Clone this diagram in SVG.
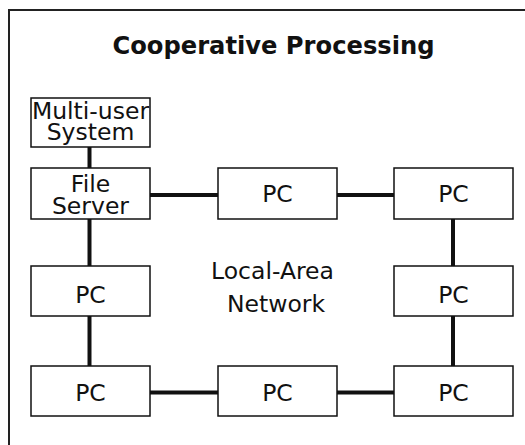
<svg xmlns="http://www.w3.org/2000/svg" width="525" height="445" viewBox="0 0 525 445">
<style>
.box{fill:#fff;stroke:#111;stroke-width:1.5}
.lbl{font-family:"DejaVu Sans","Liberation Sans",Arial,sans-serif;font-size:23.5px;fill:#111;text-anchor:middle}
.title{font-family:"DejaVu Sans","Liberation Sans",Arial,sans-serif;font-size:24.2px;font-weight:bold;fill:#111;text-anchor:middle}
.conn{stroke:#111;stroke-width:4;fill:none}
</style>
<rect width="525" height="445" fill="#fff"/>
<path d="M9,445 V10 H525" fill="none" stroke="#222" stroke-width="2"/>
<text class="title" x="273.5" y="54">Cooperative Processing</text>
<g id="connectors">
<line class="conn" x1="89.5" y1="147" x2="89.5" y2="168"/>
<line class="conn" x1="150" y1="195" x2="218" y2="195"/>
<line class="conn" x1="337" y1="195" x2="394" y2="195"/>
<line class="conn" x1="89.5" y1="219" x2="89.5" y2="266"/>
<line class="conn" x1="89.5" y1="316" x2="89.5" y2="366"/>
<line class="conn" x1="150" y1="392.5" x2="218" y2="392.5"/>
<line class="conn" x1="337" y1="392.5" x2="394" y2="392.5"/>
<line class="conn" x1="453" y1="219" x2="453" y2="266"/>
<line class="conn" x1="453" y1="316" x2="453" y2="366"/>
</g>
<g id="multiuser">
<rect class="box" x="31" y="98" width="119" height="49"/>
<text class="lbl" x="90.5" y="119" font-size="23">Multi-user</text>
<text class="lbl" x="90.5" y="140" font-size="23">System</text>
</g>
<g id="fileserver">
<rect class="box" x="31" y="168" width="119" height="51"/>
<text class="lbl" x="90.5" y="192" font-size="24">File</text>
<text class="lbl" x="90.5" y="214" font-size="24">Server</text>
</g>
<g id="pc1">
<rect class="box" x="218" y="168" width="119" height="51"/>
<text class="lbl" x="277.5" y="202">PC</text>
</g>
<g id="pc2">
<rect class="box" x="394" y="168" width="119" height="51"/>
<text class="lbl" x="453.5" y="202">PC</text>
</g>
<g id="pc3">
<rect class="box" x="31" y="266" width="119" height="50"/>
<text class="lbl" x="90.5" y="303">PC</text>
</g>
<g id="pc4">
<rect class="box" x="394" y="266" width="119" height="50"/>
<text class="lbl" x="453.5" y="303">PC</text>
</g>
<g id="pc5">
<rect class="box" x="31" y="366" width="119" height="50"/>
<text class="lbl" x="90.5" y="401">PC</text>
</g>
<g id="pc6">
<rect class="box" x="218" y="366" width="119" height="50"/>
<text class="lbl" x="277.5" y="401">PC</text>
</g>
<g id="pc7">
<rect class="box" x="394" y="366" width="119" height="50"/>
<text class="lbl" x="453.5" y="401">PC</text>
</g>
<g id="lan-label">
<text class="lbl" x="272.5" y="279" font-size="26.5">Local-Area</text>
<text class="lbl" x="276" y="312" font-size="26.5">Network</text>
</g>
</svg>
